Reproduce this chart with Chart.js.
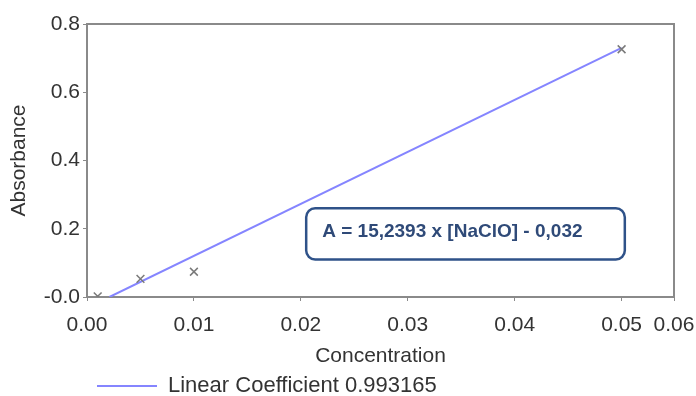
<!DOCTYPE html>
<html>
<head>
<meta charset="utf-8">
<script src="https://cdn.jsdelivr.net/npm/chart.js@4/dist/chart.umd.min.js"></script>
<style>
  html, body { margin: 0; padding: 0; background: #fff; }
  #chart { display: block; }
</style>
</head>
<body>
<canvas id="chart" width="696" height="396"></canvas>
<script>
// ===== Datos =====
const concentraciones = [0.001, 0.005, 0.01, 0.05];
const absorbancias = [0.002, 0.053, 0.074, 0.726];

// recta de regresión A = 15,2393 x [NaClO] - 0,032 (extremos leídos)
const rectaX = [0.0021, 0.05];
const rectaY = [0.0, 0.730];

const xTicks = [0, 0.01, 0.02, 0.03, 0.04, 0.05, 0.0549];
const xTickLabels = ['0.00', '0.01', '0.02', '0.03', '0.04', '0.05', '0.06'];
const yTicks = [0, 0.2, 0.4, 0.6, 0.8];
const yTickLabels = ['-0.0', '0.2', '0.4', '0.6', '0.8'];

const etiquetaRecta = 'Linear Coefficient 0.993165';
const textoEcuacion = 'A = 15,2393 x [NaClO] - 0,032';

const GRIS_EJE = '#8a8a8a';
const COLOR_TEXTO = '#333333';
const FUENTE = "'Liberation Sans', Arial, sans-serif";

// marco superior/derecho + cuadro de la ecuación
const marcoPlugin = {
    id: 'marco',
    afterLayout(chart) {
        // la leyenda empieza debajo del eje, no en el borde del canvas
        if (chart.legend) chart.legend.left = 95;
    },
    afterDatasetsDraw(chart) {
        const { ctx, chartArea: a, scales } = chart;
        ctx.save();
        ctx.strokeStyle = GRIS_EJE;
        ctx.lineWidth = 2;
        ctx.beginPath();
        ctx.moveTo(a.left, a.top);
        ctx.lineTo(a.right, a.top);
        ctx.lineTo(a.right, a.bottom);
        ctx.stroke();

        const x0 = scales.x.getPixelForValue(0.0205);
        const x1 = scales.x.getPixelForValue(0.0503);
        const y0 = scales.y.getPixelForValue(0.26);
        const y1 = scales.y.getPixelForValue(0.11);
        ctx.fillStyle = '#ffffff';
        ctx.strokeStyle = '#2f5289';
        ctx.lineWidth = 2.5;
        ctx.beginPath();
        ctx.roundRect(x0, y0, x1 - x0, y1 - y0, 9);
        ctx.fill();
        ctx.stroke();

        ctx.fillStyle = '#2f4a78';
        ctx.font = "bold 19px " + FUENTE;
        ctx.textBaseline = 'middle';
        ctx.textAlign = 'left';
        ctx.fillText(textoEcuacion, x0 + 16, (y0 + y1) / 2 - 2);
        ctx.restore();
    }
};

const ctx = document.getElementById('chart');
new Chart(ctx, {
    type: 'scatter',
    data: {
        datasets: [{
            label: 'Absorbance',
            data: concentraciones.map((c, i) => ({ x: c, y: absorbancias[i] })),
            pointStyle: 'crossRot',
            pointRadius: 5.5,
            pointBorderColor: '#7a7a7a',
            pointBackgroundColor: '#7a7a7a',
            pointBorderWidth: 1.5,
            showLine: false
        }, {
            type: 'line',
            label: etiquetaRecta,
            data: rectaX.map((c, i) => ({ x: c, y: rectaY[i] })),
            borderColor: '#8585ff',
            backgroundColor: '#8585ff',
            borderWidth: 2,
            pointRadius: 0,
            fill: false,
            tension: 0
        }]
    },
    options: {
        responsive: false,
        animation: false,
        devicePixelRatio: 1,
        layout: { padding: { top: 24, left: 0, right: 0, bottom: -11 } },
        plugins: {
            tooltip: { enabled: false },
            legend: {
                position: 'bottom',
                align: 'start',
                labels: {
                    filter: item => item.datasetIndex === 1,
                    usePointStyle: true,
                    pointStyle: 'line',
                    pointStyleWidth: 60,
                    padding: 2,
                    color: COLOR_TEXTO,
                    font: { family: FUENTE, size: 22 }
                }
            }
        },
        scales: {
            x: {
                type: 'linear',
                min: 0,
                max: 0.0549,
                afterBuildTicks: scale => { scale.ticks = xTicks.map(v => ({ value: v })); },
                afterFit: scale => {
                    scale.height = 76;
                    scale.paddingRight = 22;
                },
                ticks: {
                    autoSkip: false,
                    maxRotation: 0,
                    padding: 12,
                    color: COLOR_TEXTO,
                    font: { family: FUENTE, size: 21 },
                    callback: (v, i) => xTickLabels[i]
                },
                grid: { drawOnChartArea: false, drawTicks: true, tickLength: 4, color: GRIS_EJE },
                border: { color: GRIS_EJE, width: 2 },
                title: {
                    display: true,
                    text: 'Concentration',
                    color: COLOR_TEXTO,
                    font: { family: FUENTE, size: 21 },
                    padding: { top: 6, bottom: 4 }
                }
            },
            y: {
                type: 'linear',
                min: 0,
                max: 0.8,
                afterBuildTicks: scale => { scale.ticks = yTicks.map(v => ({ value: v })); },
                afterFit: scale => { scale.width = 87; },
                ticks: {
                    padding: 3,
                    color: COLOR_TEXTO,
                    font: { family: FUENTE, size: 21 },
                    callback: (v, i) => yTickLabels[i]
                },
                grid: { drawOnChartArea: false, drawTicks: true, tickLength: 4, color: GRIS_EJE },
                border: { color: GRIS_EJE, width: 2 },
                title: {
                    display: true,
                    text: 'Absorbance',
                    color: COLOR_TEXTO,
                    font: { family: FUENTE, size: 21 },
                    padding: { top: 7, bottom: 0 }
                }
            }
        }
    },
    plugins: [marcoPlugin]
});
</script>
</body>
</html>
